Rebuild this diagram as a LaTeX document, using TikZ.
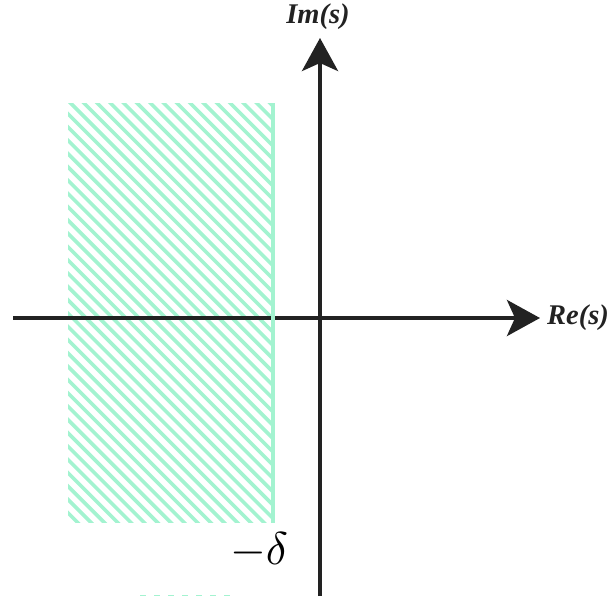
\documentclass[tikz,border=0pt]{standalone}
\usepackage{fontspec}
\setmainfont{Liberation Serif}
\usetikzlibrary{arrows.meta}
\definecolor{hatchgreen}{RGB}{163,243,208}
\definecolor{axisgray}{RGB}{34,34,34}
\tikzset{
  axisline/.style={draw=axisgray,line width=4pt,
    -{Stealth[length=33pt,width=36pt,inset=8pt]}},
  hatchline/.style={draw=hatchgreen,line width=3.6pt},
  axislabel/.style={font=\fontsize{28.5}{32}\selectfont\bfseries\itshape,text=axisgray,inner sep=0pt},
}
\begin{document}
\begin{tikzpicture}[x=1pt,y=-1pt]
\useasboundingbox (0,0) rectangle (614,598);
% hatched region
\begin{scope}
  \clip (68,103) rectangle (273,522.5);
  \foreach \k in {-40,...,20} {
    \draw[hatchline] ({-32.5+13.3*\k+60},60) -- ({-32.5+13.3*\k+600},600);
  }
\end{scope}
% horizontal axis
\coordinate (hstart) at (13,318);
\coordinate (hend) at (540,318);
\draw[axisline] (hstart) -- (hend);
% boundary line
\coordinate (btop) at (273,103);
\coordinate (bbot) at (273,522.5);
\draw[draw=hatchgreen,line width=4pt] (btop) -- (bbot);
% vertical axis
\coordinate (vstart) at (320,596);
\coordinate (vend) at (320,38);
\draw[axisline] (vstart) -- (vend);
% faint dashes at bottom
\coordinate (dstart) at (140,595.5);
\coordinate (dend) at (230,595.5);
\draw[hatchgreen,line width=1.2pt,dash pattern=on 6pt off 8pt] (dstart) -- (dend);
% labels
\node[axislabel] (im) at (318,17) {Im(s)};
\node[axislabel,anchor=west] (re) at (547,318) {Re(s)};
\node[inner sep=0pt] (delta) at (259,550) {\scalebox{4.6}{$-\delta$}};
\end{tikzpicture}
\end{document}
